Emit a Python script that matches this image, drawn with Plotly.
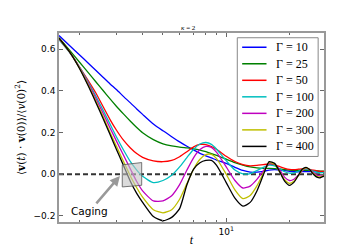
import math
import plotly.graph_objects as go

# ---------------- data ----------------
t = [1.6, 1.8, 2.0, 2.2, 2.4, 2.6, 2.8, 3.0, 3.25, 3.5, 3.75, 4.0, 4.5, 5.0, 5.5,
     6.0, 6.5, 7.0, 7.5, 8.0, 8.5, 9.0, 10, 11, 12, 13, 14, 15, 16, 17, 18, 19,
     20, 21, 22, 23, 24, 25, 26, 27, 28, 29, 30]

gammas = [10, 25, 50, 100, 200, 300, 400]

vacf_g10 = [0.665, 0.616, 0.573, 0.533, 0.497, 0.464, 0.433, 0.406, 0.372, 0.342, 0.313,
            0.287, 0.241, 0.208, 0.180, 0.155, 0.134, 0.116, 0.100, 0.088, 0.078, 0.068,
            0.052, 0.033, 0.018, 0.010, 0.010, 0.014, 0.020, 0.022, 0.020, 0.017, 0.014,
            0.012, 0.012, 0.013, 0.013, 0.013, 0.012, 0.011, 0.010, 0.010, 0.010]
vacf_g25 = [0.655, 0.594, 0.538, 0.488, 0.442, 0.400, 0.361, 0.326, 0.288, 0.254, 0.224,
            0.199, 0.166, 0.146, 0.136, 0.130, 0.126, 0.122, 0.116, 0.108, 0.099, 0.090,
            0.072, 0.056, 0.044, 0.035, 0.030, 0.028, 0.028, 0.027, 0.025, 0.022, 0.020,
            0.019, 0.019, 0.019, 0.019, 0.018, 0.017, 0.016, 0.015, 0.015, 0.015]
vacf_g50 = [0.652, 0.585, 0.515, 0.450, 0.388, 0.322, 0.262, 0.212, 0.162, 0.126, 0.099,
            0.081, 0.064, 0.060, 0.066, 0.084, 0.108, 0.131, 0.143, 0.142, 0.133, 0.119,
            0.086, 0.061, 0.046, 0.040, 0.042, 0.046, 0.049, 0.045, 0.036, 0.028, 0.023,
            0.022, 0.024, 0.026, 0.026, 0.023, 0.019, 0.016, 0.014, 0.013, 0.013]
vacf_g100 = [0.645, 0.583, 0.515, 0.443, 0.373, 0.305, 0.240, 0.180, 0.115, 0.060, 0.020,
             -0.010, -0.040, -0.030, -0.005, 0.035, 0.080, 0.120, 0.145, 0.152, 0.143, 0.120,
             0.065, 0.020, 0.002, 0.003, 0.018, 0.033, 0.044, 0.040, 0.026, 0.012, 0.005,
             0.007, 0.014, 0.021, 0.024, 0.021, 0.015, 0.009, 0.007, 0.008, 0.009]
vacf_g200 = [0.648, 0.584, 0.513, 0.437, 0.362, 0.290, 0.222, 0.160, 0.090, 0.025, -0.035,
             -0.080, -0.128, -0.128, -0.103, -0.050, 0.020, 0.080, 0.118, 0.133, 0.128, 0.105,
             0.035, -0.030, -0.066, -0.057, -0.025, 0.015, 0.050, 0.048, 0.020, -0.015, -0.030,
             -0.024, -0.005, 0.017, 0.028, 0.022, 0.008, -0.004, -0.008, -0.005, 0.000]
vacf_g300 = [0.650, 0.585, 0.510, 0.430, 0.350, 0.275, 0.200, 0.135, 0.060, -0.010, -0.065,
             -0.110, -0.170, -0.185, -0.170, -0.120, -0.045, 0.025, 0.072, 0.094, 0.095, 0.075,
             0.000, -0.075, -0.117, -0.102, -0.056, 0.003, 0.055, 0.048, 0.010, -0.028, -0.044,
             -0.034, -0.008, 0.020, 0.031, 0.021, 0.003, -0.010, -0.013, -0.008, -0.002]
vacf_g400 = [0.652, 0.585, 0.508, 0.425, 0.343, 0.265, 0.190, 0.120, 0.040, -0.035, -0.092,
             -0.135, -0.203, -0.223, -0.207, -0.165, -0.050, 0.025, 0.055, 0.066, 0.066, 0.042,
             -0.040, -0.115, -0.153, -0.135, -0.080, -0.005, 0.060, 0.052, 0.010, -0.034, -0.053,
             -0.039, -0.007, 0.024, 0.033, 0.021, 0.000, -0.014, -0.017, -0.010, -0.003]

series = [vacf_g10, vacf_g25, vacf_g50, vacf_g100, vacf_g200, vacf_g300, vacf_g400]
colors = ["#0000ff", "#008000", "#ff0000", "#00bfbf", "#bf00bf", "#bfbf00", "#000000"]

# caging box and arrow tip (data coordinates)
cage_t = [3.20, 3.96, 3.96, 3.20, 3.20]
cage_v = [0.045, 0.056, -0.053, -0.061, 0.045]
arrow_tip_t = 3.12
arrow_tip_v = -0.008

x_range = [1.6, 29.2]
y_range = [-0.229, 0.677]
y_ticks = [-0.2, 0.0, 0.2, 0.4, 0.6]
x_major = [10]
x_minor = [2, 3, 4, 5, 6, 7, 8, 9, 20]

# ---------------- layout geometry ----------------
W, H = 351, 249
ML, MR, MT, MB = 44, 35, 25, 25
PW, PH = W - ML - MR, H - MT - MB


def px(xp):
    return (xp - ML) / PW


def py(yp):
    return 1 - (yp - MT) / PH


fig = go.Figure()

for g, vals, c in zip(gammas, series, colors):
    fig.add_trace(go.Scatter(x=t, y=vals, mode="lines", name=f"Γ = {g}",
                             line=dict(color=c, width=1.3, shape="spline", smoothing=0.6),
                             showlegend=False, hoverinfo="skip"))

fig.add_trace(go.Scatter(x=cage_t, y=cage_v, mode="lines", fill="toself",
                         fillcolor="rgba(195,195,195,0.6)",
                         line=dict(color="#555555", width=0.8),
                         showlegend=False, hoverinfo="skip"))

shapes = [
    dict(type="line", xref="paper", yref="y", x0=0, x1=1, y0=0, y1=0,
         line=dict(color="#333333", width=2, dash="5px,3px"), layer="below"),
    dict(type="rect", xref="paper", yref="paper", x0=px(227), x1=px(310),
         y0=py(155), y1=py(30), fillcolor="white",
         line=dict(color="#888888", width=1), layer="above"),
]
annotations = []
for i, (g, c) in enumerate(zip(gammas, colors)):
    yy = py(40 + 17.4 * i)
    shapes.append(dict(type="line", xref="paper", yref="paper", x0=px(232), x1=px(257),
                       y0=yy, y1=yy, line=dict(color=c, width=1.5), layer="above"))
    annotations.append(dict(xref="paper", yref="paper", x=px(265), y=yy,
                            text=f"Γ = {g}", showarrow=False, xanchor="left",
                            yanchor="middle",
                            font=dict(family="Liberation Serif", size=12, color="black")))

annotations.append(dict(xref="x", yref="y", x=math.log10(arrow_tip_t), y=arrow_tip_v,
                        text="Caging", showarrow=True, ax=-30, ay=35,
                        arrowhead=2, arrowsize=0.8, arrowwidth=2.5, arrowcolor="#999999",
                        font=dict(family="DejaVu Sans", size=10.5, color="black")))
annotations.append(dict(xref="paper", yref="paper", x=0.49, y=py(19.5),
                        text="<i>κ</i> = 2", showarrow=False, yanchor="middle",
                        font=dict(family="Liberation Serif", size=7, color="black")))

axis_common = dict(showline=True, linecolor="#999999", linewidth=1.5, mirror="allticks",
                   ticks="inside", ticklen=4, tickcolor="#666666", showgrid=False,
                   zeroline=False,
                   tickfont=dict(family="DejaVu Sans", size=9, color="black"))

fig.update_layout(
    width=W, height=H,
    margin=dict(l=ML, r=MR, t=MT, b=MB),
    paper_bgcolor="white", plot_bgcolor="white",
    xaxis=dict(type="log", range=[math.log10(x_range[0]), math.log10(x_range[1])],
               tickvals=x_major, ticktext=["10<sup>1</sup>"],
               minor=dict(ticks="inside", ticklen=2, tickvals=x_minor, tickcolor="#666666"),
               title=dict(text="<i>t</i>", standoff=0,
                          font=dict(family="Liberation Serif", size=12, color="black")),
               **axis_common),
    yaxis=dict(range=y_range, tickvals=y_ticks, tickformat=".1f",
               title=dict(text="⟨<b>v</b>(<i>t</i>) · <b>v</b>(0)⟩/⟨<i>v</i>(0)<sup>2</sup>⟩",
                          standoff=6,
                          font=dict(family="DejaVu Serif", size=10.5, color="black")),
               **axis_common),
    shapes=shapes,
    annotations=annotations,
)

fig.write_html("out.html", config={"displayModeBar": False})
